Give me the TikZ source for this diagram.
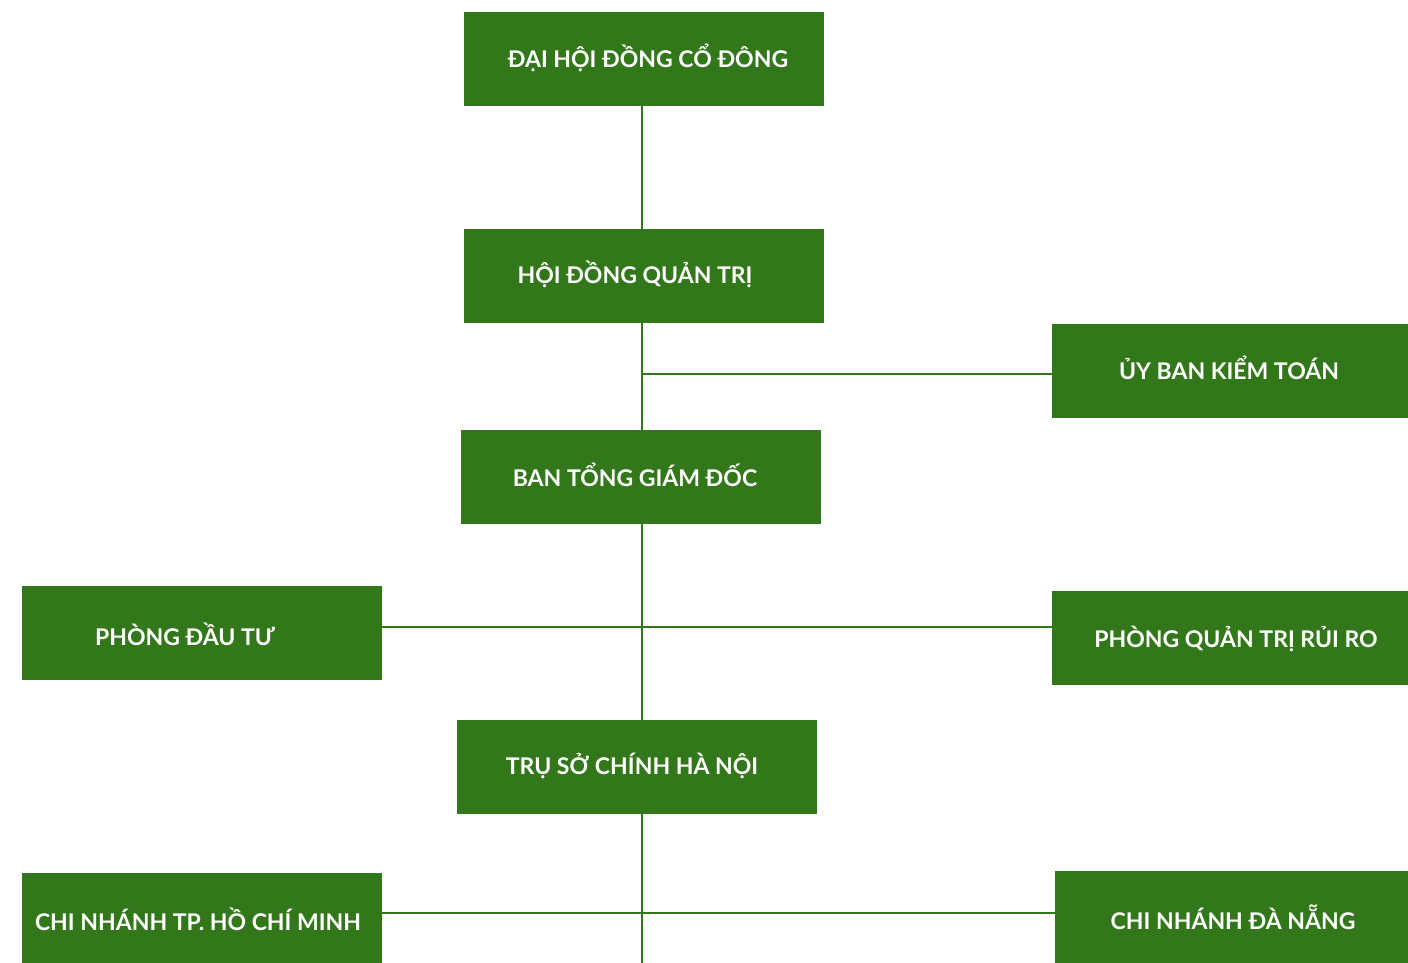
\documentclass[tikz,border=0pt]{standalone}
\usepackage{fontspec}
\setmainfont{Lato}[UprightFont=* Bold]
\definecolor{dgreen}{HTML}{32781A}
\begin{document}
\begin{tikzpicture}[x=1pt,y=-1pt,
  box/.style={fill=dgreen,draw=none,minimum width=360pt,minimum height=94pt,inner sep=0pt,outer sep=0pt},
  lbl/.style={text=white,font=\fontsize{23}{26}\selectfont,inner sep=0pt,anchor=center},
  conn/.style={draw=dgreen,line width=2pt}]
\useasboundingbox (0,0) rectangle (1408,963);
\clip (0,0) rectangle (1408,963);
\fill[white] (0,0) rectangle (1408,963);
% boxes
\node[box] (dh) at (644,59) {};
\node[box] (hd) at (644,276) {};
\node[box,minimum width=356pt] (ub) at (1230,371) {};
\node[box] (bt) at (641,477) {};
\node[box] (pd) at (202,633) {};
\node[box,minimum width=356pt] (pq) at (1230,638) {};
\node[box] (ts) at (637,767) {};
\node[box,minimum height=100pt] (hcm) at (202,923) {};
\node[box,minimum width=353pt,minimum height=100pt] (dn) at (1231.5,921) {};
% connectors
\coordinate (bot) at (642,963);
\coordinate (j1) at (642,374);
\coordinate (j2) at (642,627);
\coordinate (j3) at (642,913);
\draw[conn] (dh.south -| bot) -- (hd.north -| bot);
\draw[conn] (hd.south -| bot) -- (bt.north -| bot);
\draw[conn] (bt.south -| bot) -- (ts.north -| bot);
\draw[conn] (ts.south -| bot) -- (bot);
\draw[conn] (j1) -- (ub.west |- j1);
\draw[conn] (pd.east |- j2) -- (pq.west |- j2);
\draw[conn] (hcm.east |- j3) -- (dn.west |- j3);
% labels
\node[lbl] at (648,58) {ĐẠI HỘI ĐỒNG CỔ ĐÔNG};
\node[lbl] at (635,274) {HỘI ĐỒNG QUẢN TRỊ};
\node[lbl] at (1229,368) {ỦY BAN KIỂM TOÁN};
\node[lbl] at (635,475) {BAN TỔNG GIÁM ĐỐC};
\node[lbl] at (185,634) {PHÒNG ĐẦU TƯ};
\node[lbl] at (1236,639) {PHÒNG QUẢN TRỊ RỦI RO};
\node[lbl] at (632,766) {TRỤ SỞ CHÍNH HÀ NỘI};
\node[lbl] at (198,919) {CHI NHÁNH TP. HỒ CHÍ MINH};
\node[lbl] at (1233,917) {CHI NHÁNH ĐÀ NẴNG};
\end{tikzpicture}
\end{document}
